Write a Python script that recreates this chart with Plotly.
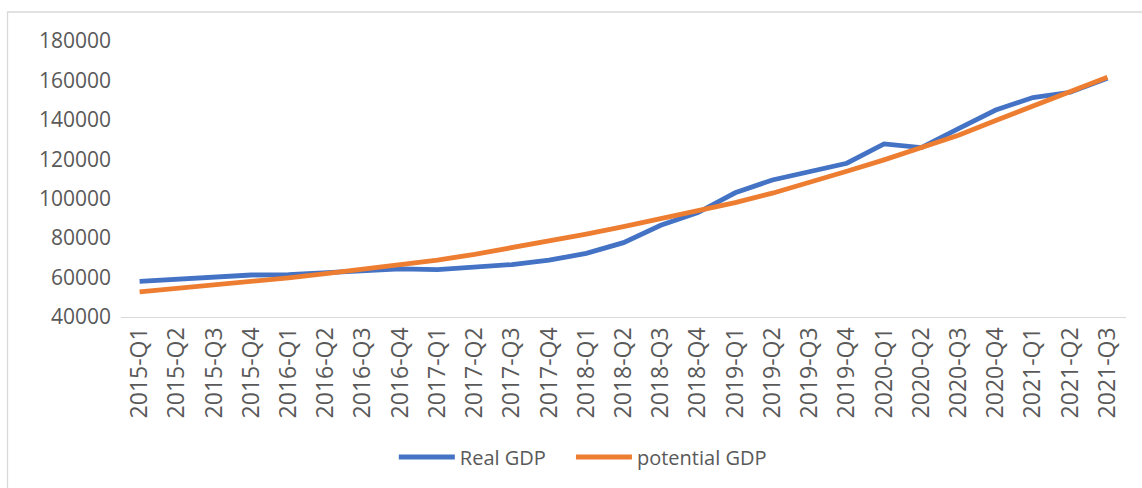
import plotly.graph_objects as go

categories = ["2015-Q1", "2015-Q2", "2015-Q3", "2015-Q4",
              "2016-Q1", "2016-Q2", "2016-Q3", "2016-Q4",
              "2017-Q1", "2017-Q2", "2017-Q3", "2017-Q4",
              "2018-Q1", "2018-Q2", "2018-Q3", "2018-Q4",
              "2019-Q1", "2019-Q2", "2019-Q3", "2019-Q4",
              "2020-Q1", "2020-Q2", "2020-Q3", "2020-Q4",
              "2021-Q1", "2021-Q2", "2021-Q3"]

real_gdp = [58100, 59200, 59800, 61300, 61500, 62600, 63800, 64400,
            64000, 65500, 66600, 68800, 72300, 77700, 86500, 93000,
            103000, 109500, 114000, 118000, 127800, 125900, 135600, 145000,
            151300, 154000, 161100]

potential_gdp = [52700, 54400, 56100, 57900, 59900, 62000, 64100, 66500,
                 68900, 71800, 75000, 78500, 82000, 85800, 89700, 93800,
                 98000, 102800, 108100, 113900, 119700, 125700, 132200, 139700,
                 147000, 154200, 161600]

y_ticks = [40000, 60000, 80000, 100000, 120000, 140000, 160000, 180000]

W, H = 1142, 488
ml, mr, mt, mb = 121.4, 16.4, 41, 171
pw = W - ml - mr
ph = H - mt - mb

def px_x(p):
    return (p - ml) / pw

def px_y(p):
    return (H - mb - p) / ph

fig = go.Figure()
fig.add_trace(go.Scatter(x=categories, y=real_gdp, name="Real GDP", mode="lines",
                         line=dict(color="#4472C4", width=4.8), legend="legend"))
fig.add_trace(go.Scatter(x=categories, y=potential_gdp, name="potential GDP", mode="lines",
                         line=dict(color="#ED7D31", width=4.8), legend="legend2"))

font_family = "Open Sans"
legend_common = dict(orientation="h", xanchor="left",
                     yref="container", y=1 - 457 / H, yanchor="middle",
                     font=dict(size=20, color="#595959", family=font_family),
                     itemwidth=56, bgcolor="rgba(0,0,0,0)")

fig.update_layout(
    width=W, height=H,
    margin=dict(l=ml, r=mr, t=mt, b=mb, pad=0),
    paper_bgcolor="white", plot_bgcolor="white",
    font=dict(family=font_family, color="#595959", size=21),
    showlegend=True,
    legend=dict(x=px_x(394), **legend_common),
    legend2=dict(x=px_x(571), **legend_common),
    xaxis=dict(type="category", range=[-0.5, len(categories) - 0.5],
               tickangle=-90, showgrid=False, zeroline=False,
               showline=True, linecolor="#D9D9D9", linewidth=1.3,
               ticks="", tickfont=dict(size=23, color="#595959")),
    yaxis=dict(range=[40000, 180000], tickvals=y_ticks,
               ticktext=[str(v) for v in y_ticks],
               showgrid=False, zeroline=False, showline=False, ticks="",
               ticklabelstandoff=9, tickfont=dict(size=21, color="#595959")),
    shapes=[dict(type="rect", xref="paper", yref="paper",
                 x0=px_x(8), x1=px_x(1160), y0=px_y(520), y1=px_y(12),
                 line=dict(color="#D9D9D9", width=1.3), fillcolor="rgba(0,0,0,0)",
                 layer="below")],
)

fig.write_html("out.html", config={"displayModeBar": False})

with open("out.html", "r", encoding="utf-8") as f:
    html = f.read()
html = html.replace("<head>", "<head><style>html,body{margin:0;padding:0;overflow:hidden;}</style>", 1)
with open("out.html", "w", encoding="utf-8") as f:
    f.write(html)
